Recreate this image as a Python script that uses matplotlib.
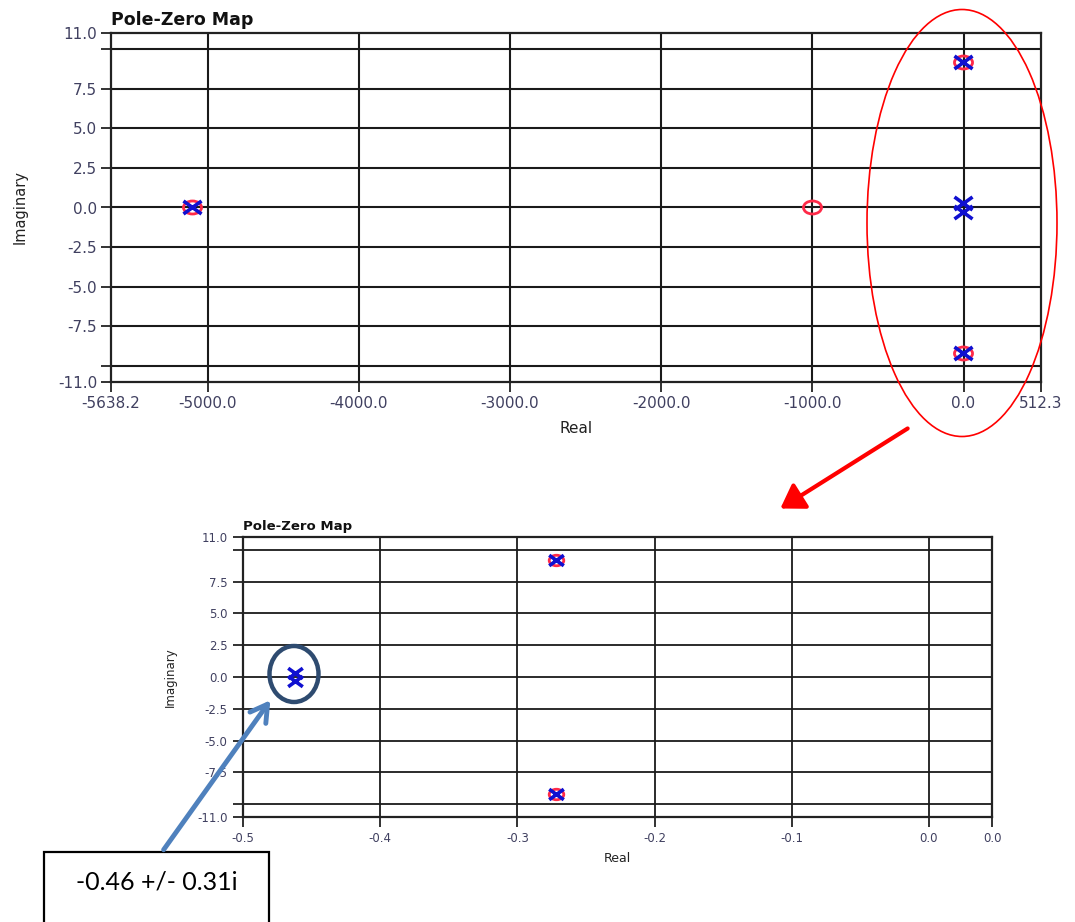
import matplotlib
matplotlib.use("Agg")
import matplotlib.pyplot as plt
from matplotlib.patches import Ellipse, FancyArrowPatch, Rectangle
from matplotlib.ticker import FixedLocator, FixedFormatter
from matplotlib.path import Path
from matplotlib.transforms import Affine2D

# ---- data ----
pole_real = [-5100.0, -0.272, -0.272, -0.462, -0.462]
pole_imag = [0.0, 9.2, -9.2, 0.31, -0.31]
zero_real = [-5100.0, -1000.0, -0.272, -0.272]
zero_imag = [0.0, 0.0, 9.2, -9.2]

top_xlim = (-5638.2, 512.3)
top_xticks = [-5638.2, -5000.0, -4000.0, -3000.0, -2000.0, -1000.0, 0.0, 512.3]
top_xgrid = [-5000.0, -4000.0, -3000.0, -2000.0, -1000.0, 0.0]

bot_xlim = (-0.5, 0.046)
bot_xticks = [-0.5, -0.4, -0.3, -0.2, -0.1, 0.0, 0.046]
bot_xgrid = [-0.4, -0.3, -0.2, -0.1, 0.0]

ylim = (-11.0, 11.0)
yticks = [-11.0, -10.0, -7.5, -5.0, -2.5, 0.0, 2.5, 5.0, 7.5, 10.0, 11.0]
ytick_labels = ["-11.0", "", "-7.5", "-5.0", "-2.5", "0.0", "2.5", "5.0", "7.5", "", "11.0"]
ygrid = [-10.0, -7.5, -5.0, -2.5, 0.0, 2.5, 5.0, 7.5, 10.0]

annotation_text = "-0.46 +/- 0.31i"

W, H = 1075, 922
fig = plt.figure(figsize=(W / 100, H / 100), dpi=100)
fig.patch.set_facecolor("white")


def fx(x):
    return x / W


def fy(y):
    return 1 - y / H


TICKCOL = "#404060"
GRIDCOL = "#1a1a1a"

# flattened X and O markers (the reference glyphs are wider than tall)
X_MARK = Path([(-1, -0.72), (1, 0.72), (-1, 0.72), (1, -0.72)],
              [Path.MOVETO, Path.LINETO, Path.MOVETO, Path.LINETO])
O_MARK = Path.unit_circle().transformed(Affine2D().scale(1.0, 0.72))


def setup(ax, xlim, xticks, xgrid, tsize, lsize, ylsize, ylx, title, tisize, tpad,
          ms_x, ms_o, grid_lw, xlpad, tickpad):
    ax.set_xlim(*xlim)
    ax.set_ylim(*ylim)
    for g in xgrid:
        ax.axvline(g, color=GRIDCOL, lw=grid_lw, zorder=1)
    for g in ygrid:
        ax.axhline(g, color=GRIDCOL, lw=grid_lw, zorder=1)
    ax.xaxis.set_major_locator(FixedLocator(xticks))
    ax.xaxis.set_major_formatter(FixedFormatter(["%.1f" % v for v in xticks]))
    ax.yaxis.set_major_locator(FixedLocator(yticks))
    ax.yaxis.set_major_formatter(FixedFormatter(ytick_labels))
    ax.tick_params(axis="both", direction="out", length=7, width=1.3, color="#222222",
                   labelsize=tsize, labelcolor=TICKCOL, pad=tickpad)
    for s in ax.spines.values():
        s.set_color("#222222")
        s.set_linewidth(1.6)
    ax.plot(zero_real, zero_imag, linestyle="none", marker=O_MARK, markersize=ms_o,
            markerfacecolor="none", markeredgecolor="#ff2a48", markeredgewidth=2.0,
            zorder=3)
    ax.plot(pole_real, pole_imag, linestyle="none", marker=X_MARK, markersize=ms_x,
            color="#1010d0", markeredgewidth=2.6, zorder=4)
    ax.set_xlabel("Real", fontsize=lsize, color="#222222", labelpad=xlpad)
    ax.set_ylabel("Imaginary", fontsize=ylsize, color="#222222")
    ax.yaxis.set_label_coords(ylx, 0.5)
    ax.set_title(title, loc="left", fontsize=tisize, fontweight="bold", pad=tpad, color="#111111")


ax1 = fig.add_axes([fx(111), fy(382), fx(1041) - fx(111), fy(33) - fy(382)])
setup(ax1, top_xlim, top_xticks, top_xgrid, 11, 11, 10.5, (28 - 111) / 930,
      "Pole-Zero Map", 12.5, 6, 13, 13, 1.5, 7, 3)

ax2 = fig.add_axes([fx(243), fy(817), fx(992) - fx(243), fy(537) - fy(817)])
setup(ax2, bot_xlim, bot_xticks, bot_xgrid, 8.5, 9, 8.5, (177 - 243) / 749,
      "Pole-Zero Map", 9.5, 5, 10.5, 10.5, 1.3, 5, 4)

# ---- annotations ----
fig.add_artist(Ellipse((fx(962), fy(223)), 190 / W, 427 / H, transform=fig.transFigure,
                       fill=False, edgecolor="#ff0000", linewidth=1.2, zorder=10))
fig.add_artist(FancyArrowPatch((fx(910), fy(427)), (fx(778), fy(510)),
                               transform=fig.transFigure,
                               arrowstyle="-|>,head_length=0.7,head_width=0.45",
                               mutation_scale=20, color="#ff0000", linewidth=3, zorder=10))
fig.add_artist(Ellipse((fx(294), fy(674)), 49 / W, 56 / H, transform=fig.transFigure,
                       fill=False, edgecolor="#2e4b70", linewidth=3.2, zorder=10))
fig.add_artist(FancyArrowPatch((fx(162), fy(852)), (fx(272), fy(698)),
                               transform=fig.transFigure,
                               arrowstyle="->,head_length=0.6,head_width=0.35",
                               mutation_scale=20, color="#4f81bd", linewidth=3.5, zorder=10))
fig.add_artist(Rectangle((fx(44), fy(930)), (269 - 44) / W, (930 - 852) / H,
                         transform=fig.transFigure, fill=True, facecolor="white",
                         edgecolor="black", linewidth=1.6, zorder=9))
fig.text(fx(157), fy(882), annotation_text, fontsize=18, family="Lato",
         ha="center", va="center", color="black", zorder=11)

fig.savefig("out.png", dpi=100, facecolor="white")
